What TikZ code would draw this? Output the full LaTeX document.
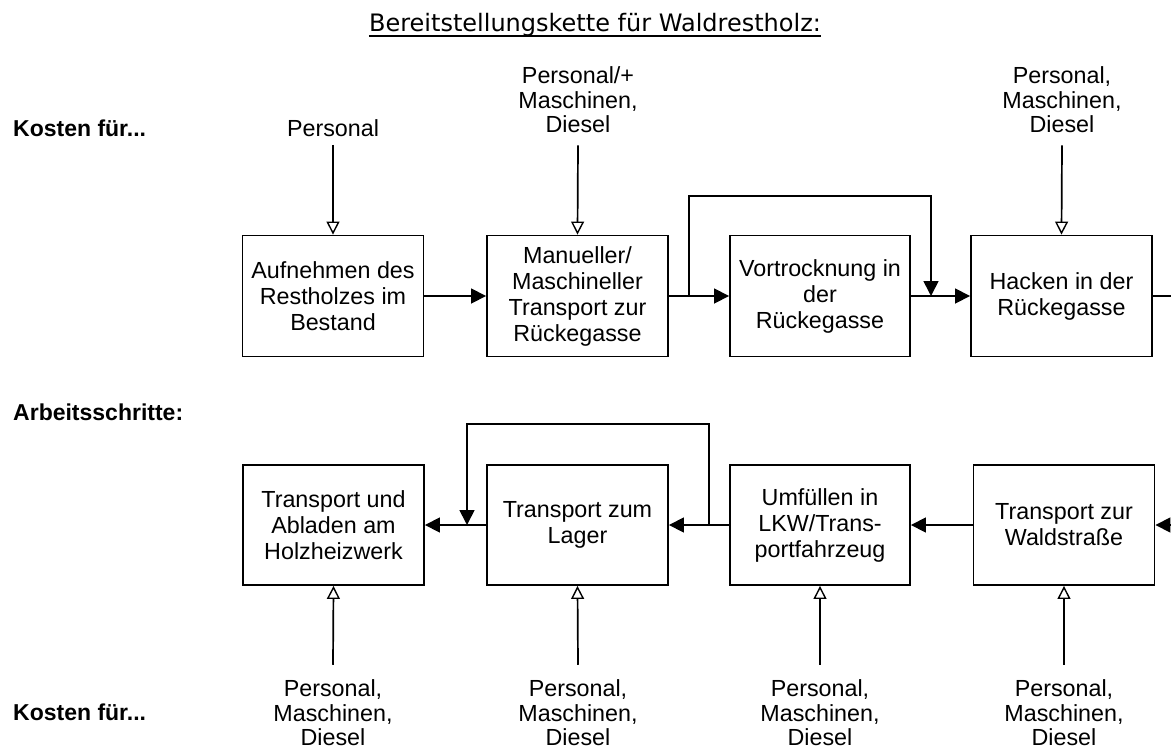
\documentclass[tikz,border=0pt]{standalone}
\usepackage{fontspec}
\setmainfont{Liberation Sans}
\newfontfamily\titlefont{DejaVu Sans}
\usetikzlibrary{arrows.meta}
\begin{document}
\begin{tikzpicture}[x=1pt,y=-1pt,
  stepbox/.style={draw,line width=1.9pt,minimum width=181pt,minimum height=121pt,
    align=center,inner sep=2pt,font=\fontsize{23.3}{26}\selectfont},
  cost/.style={align=center,inner sep=0pt,font=\fontsize{23.3}{24.5}\selectfont},
  side/.style={anchor=west,inner sep=0pt,font=\fontsize{23}{25}\selectfont\bfseries},
  flow/.style={line width=1.7pt,-{Triangle[length=15pt,width=15pt]}},
  feed/.style={line width=1.7pt,-{Triangle[open,length=13pt,width=13pt,line width=1.4pt]}},
  wire/.style={line width=1.7pt}]
\useasboundingbox (0,0) rectangle (1171,753);

% title
\node[inner sep=0pt,anchor=base,font=\titlefont\fontsize{24}{28}\selectfont] (title) at (595,31) {Bereitstellungskette für Waldrestholz:};
\draw[line width=2pt] ([yshift=-5pt]title.base west) -- ([yshift=-5pt]title.base east);

% side captions
\node[side] (k1) at (13,128) {Kosten für...};
\node[side] (as) at (13,412) {Arbeitsschritte:};
\node[side] (k2) at (13,712) {Kosten für...};

% upper chain
\node[stepbox] (b1) at (333,296) {Aufnehmen des\\Restholzes im\\Bestand};
\node[stepbox] (b2) at (577.5,296) {Manueller/\\Maschineller\\Transport zur\\Rückegasse};
\node[stepbox,minimum width=180pt] (b3) at (820,296) {Vortrocknung in\\der\\Rückegasse};
\node[stepbox] (b4) at (1061.5,296) {Hacken in der\\Rückegasse};

% lower chain
\node[stepbox,minimum height=120pt] (b5) at (333.5,525) {Transport und\\Abladen am\\Holzheizwerk};
\node[stepbox,minimum height=120pt] (b6) at (577.5,525) {Transport zum\\Lager};
\node[stepbox,minimum height=120pt,minimum width=180pt] (b7) at (820,525) {Umfüllen in\\LKW/Trans-\\portfahrzeug};
\node[stepbox,minimum height=120pt] (b8) at (1064,525) {Transport zur\\Waldstraße};

% cost inputs, top
\node[cost] (c1) at (333,128) {Personal};
\node[cost] (c2) at (578,100) {Personal/+\\Maschinen,\\Diesel};
\node[cost] (c4) at (1062,100) {Personal,\\Maschinen,\\Diesel};

% cost inputs, bottom
\node[cost] (c5) at (333,713) {Personal,\\Maschinen,\\Diesel};
\node[cost] (c6) at (578,713) {Personal,\\Maschinen,\\Diesel};
\node[cost] (c7) at (820,713) {Personal,\\Maschinen,\\Diesel};
\node[cost] (c8) at (1064,713) {Personal,\\Maschinen,\\Diesel};

% cost arrows
\draw[feed] ([yshift=-8pt]c1.south) -- (b1.north);
\draw[feed] ([yshift=-12pt]c2.south) -- (b2.north);
\draw[feed] ([yshift=-12pt]c4.south) -- (b4.north);
\draw[feed] ([yshift=15pt]c5.north) -- (b5.south);
\draw[feed] ([yshift=15pt]c6.north) -- (b6.south);
\draw[feed] ([yshift=15pt]c7.north) -- (b7.south);
\draw[feed] ([yshift=15pt]c8.north) -- (b8.south);

% upper flow
\coordinate (j1) at (689,296);
\coordinate (j2) at (931,296);
\coordinate (out) at (1171,296);
\draw[flow] (b1.east) -- (b2.west);
\draw[flow] (b2.east) -- (b3.west);
\draw[flow] (b3.east) -- (b4.west);
\draw[wire] (b4.east) -- (out);
\draw[flow] (j1) -- (689,196) -- (931,196) -- (j2);

% lower flow
\coordinate (j3) at (709,525);
\coordinate (j4) at (467,525);
\coordinate (in) at (1171,525);
\draw[flow] (in) -- (b8.east);
\draw[flow] (b8.west) -- (b7.east);
\draw[flow] (b7.west) -- (b6.east);
\draw[flow] (b6.west) -- (b5.east);
\draw[flow] (j3) -- (709,424) -- (467,424) -- (j4);
\end{tikzpicture}
\end{document}
